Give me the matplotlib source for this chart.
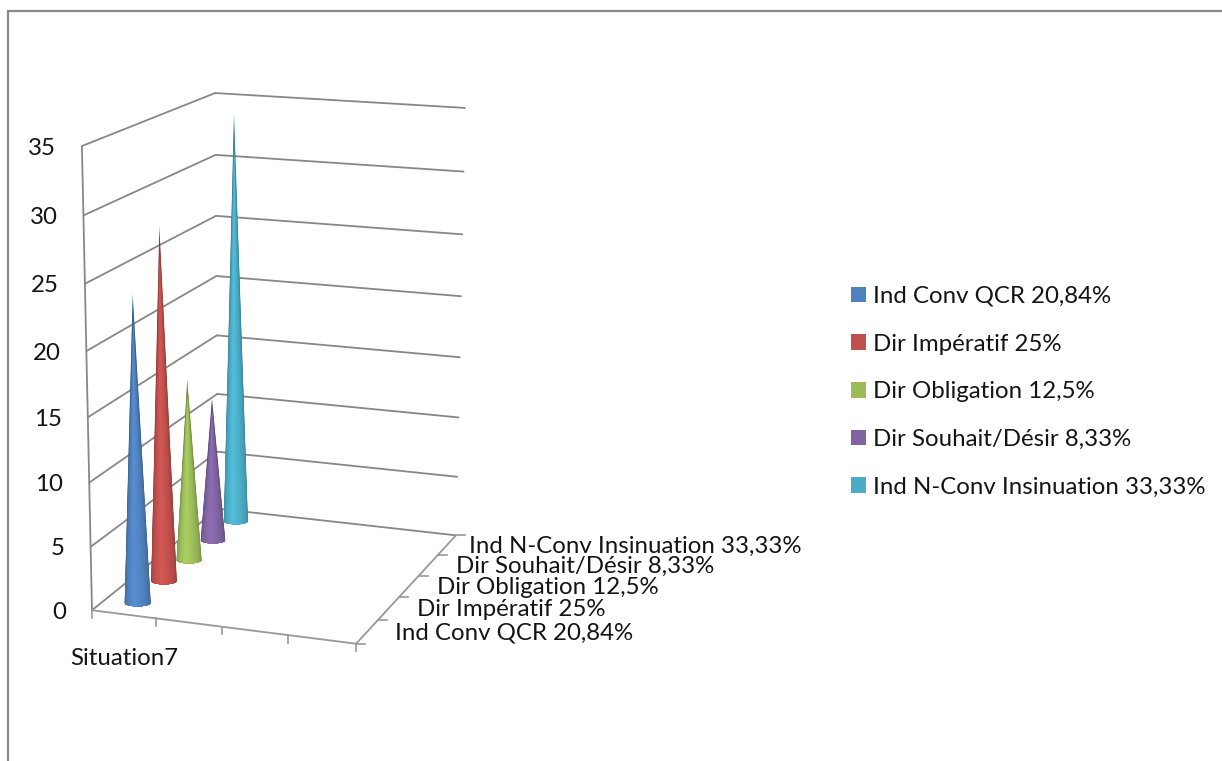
"""
Cone chart (3D look) drawn on a plain axes in pixel coordinates
"""
import numpy as np
import matplotlib
matplotlib.use('Agg')
import matplotlib.pyplot as plt
from matplotlib.colors import to_rgb
from matplotlib.patches import Patch

# Data
series_names = ['Ind Conv QCR 20,84%', 'Dir Impératif 25%', 'Dir Obligation 12,5%',
                'Dir Souhait/Désir 8,33%', 'Ind N-Conv Insinuation 33,33%']
series_values = [23.9, 27.9, 14.8, 11.9, 33.9]
series_colors = ['#4F81BD', '#C0504D', '#9BBB59', '#8064A2', '#4BACC6']
category_label = 'Situation7'
y_ticks = [0, 5, 10, 15, 20, 25, 30, 35]

# Where the corners of the box land in the picture: (u, v, value) -> pixel
corners = [
    ((0, 0, 0), (92, 610)), ((0, 0, 35), (82, 146)),
    ((0, 1, 0), (218, 509)), ((0, 1, 35), (215, 93)),
    ((1, 1, 0), (456, 535)), ((1, 1, 35), (465, 108)),
    ((1, 0, 0), (356, 644)),
]
n_cat_ticks = 4
cone_u = 0.125
cone_radius_u = 0.051
ellipse_ratio = 0.26
n_layers = 24
label_offsets = [28, 28, 28, 28, 22]
grid_color = '#878787'
text_color = '#141414'
font_size = 17.3

plt.rcParams['font.family'] = ['Lato', 'DejaVu Sans']


def fit_camera(points):
    # perspective matrix from the corners, least squares
    A, b = [], []
    for (u, v, val), (x, y) in points:
        w = val / 35
        A.append([u, v, w, 1, 0, 0, 0, 0, -x * u, -x * v, -x * w])
        b.append(x)
        A.append([0, 0, 0, 0, u, v, w, 1, -y * u, -y * v, -y * w])
        b.append(y)
    p = np.linalg.lstsq(np.array(A, float), np.array(b, float), rcond=None)[0]
    return np.append(p, 1).reshape(3, 4)


camera = fit_camera(corners)


def project(u, v, val):
    q = camera @ np.array([u, v, val / 35, 1])
    return q[0] / q[2], q[1] / q[2]


def line3d(ax, a, b, lw=1.3, color=grid_color):
    pa, pb = project(*a), project(*b)
    ax.plot([pa[0], pb[0]], [pa[1], pb[1]], color=color, lw=lw, solid_capstyle='round', zorder=1)


def draw_cone(ax, v, value, color, zorder):
    cx, cy = project(cone_u, v, 0)
    apex = np.array(project(cone_u, v, value))
    left = project(cone_u - cone_radius_u, v, 0)
    right = project(cone_u + cone_radius_u, v, 0)
    r = (right[0] - left[0]) / 2
    rgb = np.array(to_rgb(color))

    # nested slices of the cone, dark at the rim and lighter towards the middle
    for k in range(n_layers):
        f = k / (n_layers - 1)
        theta = np.linspace(np.pi - 1.25 * f, 0 + 1.75 * f, 40)
        bx = cx + r * np.cos(theta)
        by = cy + r * ellipse_ratio * np.sin(theta)
        tip = apex + (np.array([cx, cy]) - apex) * (0.10 * min(f * 6, 1))
        xs = np.append(bx, tip[0])
        ys = np.append(by, tip[1])
        shade = 0.72 + 0.38 * f ** 0.6
        ax.fill(xs, ys, color=np.minimum(rgb * shade, 1), lw=0, zorder=zorder)


fig = plt.figure(figsize=(12.22, 7.61), dpi=100)
ax = fig.add_axes([0, 0, 1, 1])
ax.set_xlim(0, 1222)
ax.set_ylim(761, 0)
ax.axis('off')

# Outer frame, only top and left are in the picture
ax.plot([8, 8, 1222], [761, 11, 11], color='#8a8a8a', lw=1.6, solid_joinstyle='miter')

# Walls
for val in y_ticks:
    line3d(ax, (0, 0, val), (0, 1, val))
    line3d(ax, (0, 1, val), (1, 1, val))
    x, y = project(0, 0, val)
    ax.text(x - 26, y + 2, str(val), ha='right', va='center', fontsize=font_size, color=text_color)
line3d(ax, (0, 0, 0), (0, 0, 35))

# Floor edges and ticks
line3d(ax, (0, 0, 0), (1, 0, 0), color='#989898')
line3d(ax, (1, 0, 0), (1, 1, 0), color='#989898')
for k in range(n_cat_ticks + 1):
    x, y = project(k / n_cat_ticks, 0, 0)
    ax.plot([x, x], [y, y + 7.5], color='#989898', lw=1.2, zorder=1)
n_series = len(series_names)
for k in range(n_series + 1):
    x, y = project(1, k / n_series, 0)
    ax.plot([x, x + 9], [y, y], color='#989898', lw=1.2, zorder=1)

# Cones, back to front
for i in range(n_series - 1, -1, -1):
    draw_cone(ax, (i + 0.5) / n_series, series_values[i], series_colors[i], 10 + n_series - i)

# Axis labels
x, y = project(0.5 / n_cat_ticks, 0, 0)
ax.text(124, y + 44, category_label, ha='center', va='center', fontsize=font_size, color=text_color)
for i, name in enumerate(series_names):
    x, y = project(1, (i + 0.5) / n_series, 0)
    ax.text(x + label_offsets[i], y + 1, name, ha='left', va='center', fontsize=font_size,
            color=text_color, zorder=20)

# Legend
handles = [Patch(facecolor=c, edgecolor='none', label=n) for c, n in zip(series_colors, series_names)]
ax.legend(handles=handles, loc='upper left', bbox_to_anchor=(851, 286), bbox_transform=ax.transData,
          frameon=False, fontsize=font_size, handlelength=0.624, handleheight=0.624, handletextpad=0.29,
          labelspacing=1.11, borderpad=0, borderaxespad=0, labelcolor=text_color)

plt.savefig('out.png', dpi=100)
plt.close()
